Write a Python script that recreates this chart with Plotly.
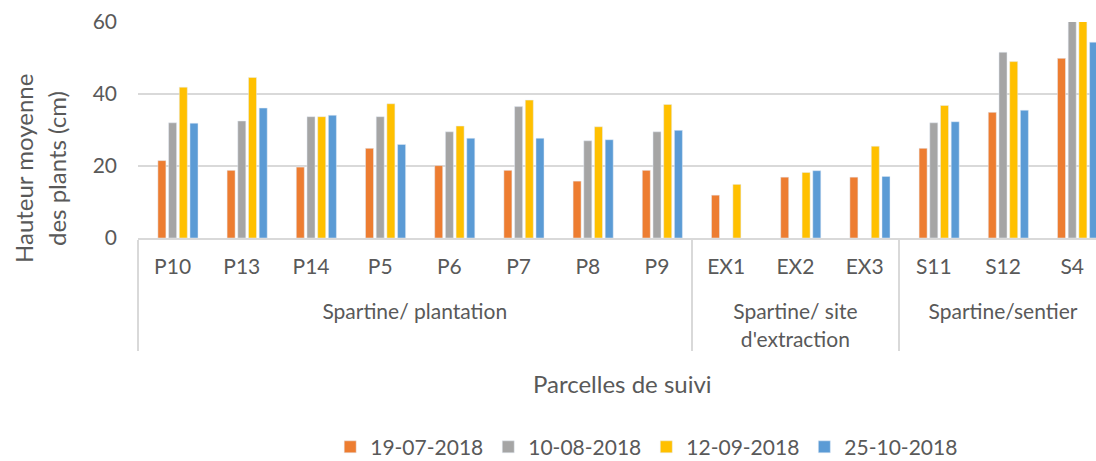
import plotly.graph_objects as go

# category axis: inner level (plots) and outer level (site groups)
GROUPS = (["<br>Spartine/ plantation"] * 8
          + ["<br>Spartine/ site<br>d'extraction"] * 3
          + ["<br>Spartine/sentier"] * 3)
PLOTS = ["P10", "P13", "P14", "P5", "P6", "P7", "P8", "P9",
         "EX1", "EX2", "EX3", "S11", "S12", "S4"]

DATES = ["19-07-2018", "10-08-2018", "12-09-2018", "25-10-2018"]
H_0719 = [21.5, 18.8, 19.7, 24.9, 20.1, 18.8, 15.8, 18.8, 11.9, 16.9, 16.9, 24.9, 34.9, 49.9]
H_0810 = [32.0, 32.5, 33.7, 33.7, 29.5, 36.5, 27.0, 29.5, None, None, None, 32.0, 51.6, 62.0]
H_0912 = [41.9, 44.6, 33.7, 37.3, 31.1, 38.3, 30.9, 37.1, 14.9, 18.2, 25.5, 36.8, 49.0, 61.0]
H_1025 = [31.9, 36.1, 34.1, 26.0, 27.7, 27.7, 27.3, 29.9, None, 18.7, 17.1, 32.3, 35.5, 54.4]
# first series of the workbook is empty but still takes its slot in each group
H_EMPTY = [None] * 14

COLORS = ["#ED7D31", "#A5A5A5", "#FFC000", "#5B9BD5"]
FONT = "Lato"
TXT = "#595959"
GRID = "#D9D9D9"
FS = 21

fig = go.Figure()
fig.add_trace(go.Bar(x=[GROUPS, PLOTS], y=H_EMPTY, marker_color="#4472C4",
                     showlegend=False, hoverinfo="skip"))
for name, vals, col in zip(DATES, [H_0719, H_0810, H_0912, H_1025], COLORS):
    fig.add_trace(go.Bar(x=[GROUPS, PLOTS], y=vals, name=name, marker_color=col))

fig.update_layout(
    width=1096, height=461,
    margin=dict(l=138, r=0, t=22, b=223),
    plot_bgcolor="white", paper_bgcolor="white",
    barmode="group", bargap=0.227, bargroupgap=0.25,
    font=dict(family=FONT, size=FS, color=TXT),
    legend=dict(orientation="h", x=0.531, xanchor="center",
                yref="container", y=0.03, yanchor="middle", itemwidth=30,
                font=dict(size=FS, color=TXT)),
    xaxis=dict(
        type="multicategory",
        range=[-0.5, 13.344],
        automargin=False,
        showline=True, linecolor=GRID, linewidth=1.5,
        showdividers=True, dividercolor=GRID, dividerwidth=1.5,
        ticks="", ticklabelstandoff=9, tickfont=dict(size=FS, color=TXT),
    ),
    yaxis=dict(
        range=[0, 60], dtick=20,
        automargin=False,
        showgrid=True, gridcolor=GRID, gridwidth=1.5,
        zeroline=False, showline=False,
        ticks="", ticklabelstandoff=20,
        tickfont=dict(size=FS, color=TXT),
    ),
)

# axis titles placed as annotations to match the workbook layout
for txt, xpx in [("Hauteur moyenne", 23), ("des plants (cm)", 56)]:
    fig.add_annotation(text=txt, textangle=-90, xref="paper", yref="paper",
                       x=(xpx - 138) / 958, y=(238 - 169) / 216,
                       xanchor="center", yanchor="middle", showarrow=False,
                       font=dict(size=24, color=TXT))
fig.add_annotation(text="Parcelles de suivi", xref="paper", yref="paper",
                   x=(622 - 138) / 958, y=(238 - 383) / 216,
                   xanchor="center", yanchor="middle", showarrow=False,
                   font=dict(size=24, color=TXT))

fig.write_html("out.html", config={"displayModeBar": False},
               post_script="document.body.style.margin='0';")
